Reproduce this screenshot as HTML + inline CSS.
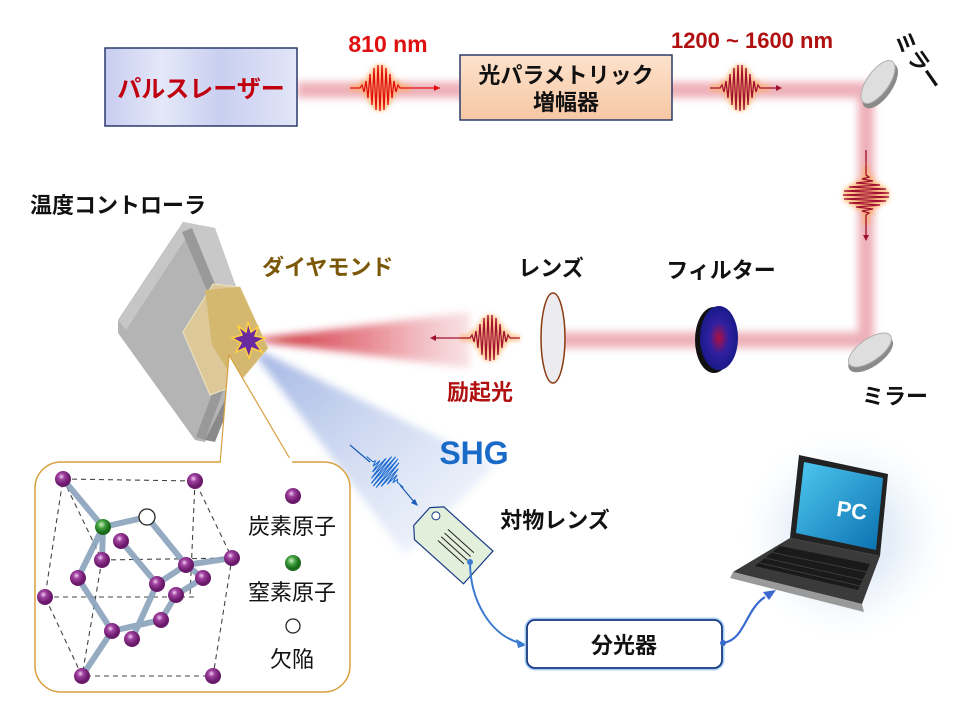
<!DOCTYPE html>
<html><head><meta charset="utf-8"><style>
html,body{margin:0;padding:0;background:#fff;}
svg{display:block;}
text{font-family:"Liberation Sans","Noto Sans CJK JP",sans-serif;}
</style></head><body>
<svg width="960" height="720" viewBox="0 0 960 720" xmlns="http://www.w3.org/2000/svg">
<defs>
<filter id="blur4" x="-50%" y="-50%" width="200%" height="200%"><feGaussianBlur stdDeviation="4"/></filter>
<filter id="blur2" x="-50%" y="-50%" width="200%" height="200%"><feGaussianBlur stdDeviation="2"/></filter>
<linearGradient id="laser" x1="0" x2="1"><stop offset="0" stop-color="#c8cdf0"/><stop offset="0.3" stop-color="#e4e8f8"/><stop offset="0.6" stop-color="#c9cff0"/><stop offset="1" stop-color="#e2e6f8"/></linearGradient>
<linearGradient id="opa" x1="0" y1="0" x2="0" y2="1"><stop offset="0" stop-color="#fde2cc"/><stop offset="1" stop-color="#f6c7a4"/></linearGradient>
<linearGradient id="redcone" x1="0" x2="1"><stop offset="0" stop-color="#c00010" stop-opacity="0.9"/><stop offset="0.6" stop-color="#d83040" stop-opacity="0.5"/><stop offset="1" stop-color="#e07080" stop-opacity="0.2"/></linearGradient>
<linearGradient id="bluecone" x1="0" y1="0" x2="1" y2="1"><stop offset="0" stop-color="#6080d0" stop-opacity="0.6"/><stop offset="1" stop-color="#a0b8e8" stop-opacity="0.08"/></linearGradient>
<radialGradient id="filt"><stop offset="0" stop-color="#b01040"/><stop offset="0.5" stop-color="#3020a0"/><stop offset="1" stop-color="#1a1a8a"/></radialGradient>
<radialGradient id="pcglow"><stop offset="0.4" stop-color="#e3edf8"/><stop offset="1" stop-color="#fff" stop-opacity="0"/></radialGradient>
<radialGradient id="atom" cx="0.4" cy="0.35"><stop offset="0" stop-color="#f0d0f0"/><stop offset="0.4" stop-color="#a040a0"/><stop offset="1" stop-color="#6a1a6a"/></radialGradient>
<radialGradient id="natom" cx="0.4" cy="0.35"><stop offset="0" stop-color="#d0f0c0"/><stop offset="0.5" stop-color="#40a040"/><stop offset="1" stop-color="#1a6a1a"/></radialGradient>
<linearGradient id="screen" x1="0" y1="0" x2="1" y2="1"><stop offset="0" stop-color="#4fc8f0"/><stop offset="1" stop-color="#0a70b0"/></linearGradient>
<path id="pk" d="M-30 0 L-20 0 L-18 -3 L-16 4 L-14 -7 L-12 10 L-10 -14 L-8 17 L-6 -20 L-4 22 L-2 -23 L0 23 L2 -23 L4 22 L6 -20 L8 17 L10 -14 L12 10 L14 -7 L16 4 L18 -3 L20 0 L30 0" fill="none"/>
</defs>

<g filter="url(#blur4)" opacity="0.55">
<path d="M297 90 L866 90 L866 340 L560 340" fill="none" stroke="#e07080" stroke-width="16"/>
</g>
<g filter="url(#blur4)">
<polygon points="250,340 470,312 470,368" fill="url(#redcone)"/>
<polygon points="248,345 495,465 405,555" fill="url(#bluecone)"/>
<circle cx="845" cy="535" r="115" fill="url(#pcglow)"/>
</g>

<rect x="105" y="48" width="192" height="78" fill="url(#laser)" stroke="#2a3a6a" stroke-width="1.5"/>
<text x="201" y="97" font-size="24" font-weight="bold" fill="#c00010" text-anchor="middle">パルスレーザー</text>
<text x="388" y="52" font-size="23" font-weight="bold" fill="#e01010" text-anchor="middle">810 nm</text>

<rect x="460" y="55" width="212" height="65" fill="url(#opa)" stroke="#2a3a6a" stroke-width="1.5"/>
<text x="566" y="83" font-size="22" font-weight="bold" fill="#111" text-anchor="middle">光パラメトリック</text>
<text x="566" y="110" font-size="22" font-weight="bold" fill="#111" text-anchor="middle">増幅器</text>
<text x="752" y="48" font-size="22" font-weight="bold" fill="#b01010" text-anchor="middle">1200 ~ 1600 nm</text>

<g transform="translate(380,88)">
<use href="#pk" stroke="#ffb060" stroke-width="6" filter="url(#blur2)" opacity="0.7"/>
<use href="#pk" stroke="#e01010" stroke-width="1.3"/>
<path d="M30 0 L60 0" stroke="#e01010" stroke-width="1.3"/><path d="M60 0 l-6 -3 v6z" fill="#e01010"/>
</g>
<g transform="translate(740,88)">
<use href="#pk" stroke="#ffb060" stroke-width="6" filter="url(#blur2)" opacity="0.7"/>
<use href="#pk" stroke="#a01030" stroke-width="1.3"/>
<path d="M30 0 L40 0" stroke="#a01030" stroke-width="1.3"/><path d="M42 0 l-6 -3 v6z" fill="#a01030"/>
</g>
<g transform="translate(866,195) rotate(90)">
<path d="M-45 0 L-30 0" stroke="#a01030" stroke-width="1.3"/>
<use href="#pk" stroke="#ffb060" stroke-width="6" filter="url(#blur2)" opacity="0.7"/>
<use href="#pk" stroke="#a01030" stroke-width="1.3"/>
<path d="M30 0 L44 0" stroke="#a01030" stroke-width="1.3"/><path d="M46 0 l-6 -3 v6z" fill="#a01030"/>
</g>
<g transform="translate(490,338)">
<use href="#pk" stroke="#ffb060" stroke-width="6" filter="url(#blur2)" opacity="0.7"/>
<use href="#pk" stroke="#a01030" stroke-width="1.3"/>
<path d="M-30 0 L-58 0" stroke="#a01030" stroke-width="1.3"/><path d="M-60 0 l6 -3 v6z" fill="#a01030"/>
</g>

<g transform="translate(878,82) rotate(35)">
<ellipse cx="4" cy="2" rx="12" ry="26" fill="#8a8a8a"/>
<ellipse cx="0" cy="0" rx="11" ry="25" fill="#dedede" stroke="#b0b0b0"/>
</g>
<text x="0" y="0" font-size="22" font-weight="bold" fill="#111" transform="translate(893,38) rotate(55)">ミラー</text>
<g transform="translate(870,350) rotate(55)">
<ellipse cx="4" cy="2" rx="12" ry="26" fill="#8a8a8a"/>
<ellipse cx="0" cy="0" rx="11" ry="25" fill="#dedede" stroke="#b0b0b0"/>
</g>
<text x="895" y="404" font-size="22" font-weight="bold" fill="#111" text-anchor="middle">ミラー</text>

<ellipse cx="553" cy="338" rx="12" ry="45" fill="#ecebef" stroke="#8a3a10" stroke-width="1.5"/>
<text x="551" y="276" font-size="22" font-weight="bold" fill="#111" text-anchor="middle">レンズ</text>
<ellipse cx="714" cy="340" rx="19" ry="33" fill="#111"/>
<ellipse cx="719" cy="338" rx="19" ry="32" fill="url(#filt)"/>
<text x="721" y="278" font-size="22" font-weight="bold" fill="#111" text-anchor="middle">フィルター</text>
<text x="480" y="400" font-size="22" font-weight="bold" fill="#b01010" text-anchor="middle">励起光</text>

<text x="30" y="213" font-size="22" font-weight="bold" fill="#111">温度コントローラ</text>
<polygon points="118,320 183,222 215,228 255,340 205,442 195,440 118,333" fill="#b4b4b4"/>
<polygon points="183,222 215,228 240,300 210,300" fill="#c8c8c8"/>
<polygon points="118,320 183,222 190,232 126,330" fill="#c6c6c6"/>
<polygon points="182,232 192,228 240,345 205,440 196,437 230,345" fill="#999"/>
<polygon points="205,440 245,360 250,345 255,340 215,442" fill="#8a8a8a"/>
<polygon points="183,332 213,284 240,287 268,348 237,385 210,395" fill="#dcc898" stroke="#f0e4c0"/>
<polygon points="205,290 240,287 268,348 237,385 212,345" fill="#d4b870"/>
<text x="262" y="275" font-size="22" font-weight="bold" fill="#7a5808">ダイヤモンド</text>
<polygon points="248,322 251,332 258,327 255,336 265,338 256,343 262,352 252,348 249,358 245,348 236,352 241,343 232,338 242,335 238,326 246,332" fill="#6a2aa0" stroke="#ffd040" stroke-width="1.5"/>

<polygon points="229,355 220,464 293,464" fill="#fff" stroke="#d9a040" stroke-width="1.2"/>
<rect x="35" y="462" width="315" height="230" rx="26" fill="#fff" stroke="#d9a040" stroke-width="1.5"/>
<rect x="221" y="458" width="71" height="8" fill="#fff"/>
<g stroke="#444" stroke-width="1.1" stroke-dasharray="5,4" fill="none">
<path d="M63 479 L195 481 L232 558 L213 676 L82 676 L45 597 L63 479"/>
<path d="M45 597 L195 597"/><path d="M102 560 L232 558"/>
<path d="M63 479 L102 560 L82 676"/><path d="M195 481 L190 597"/>
</g>
<g stroke="#8aa2bc" stroke-width="6" stroke-linecap="round" fill="none" opacity="0.9">
<path d="M63 479 L103 527 L147 517 L186 565 L232 558"/>
<path d="M103 527 L78 578 L112 631 L82 676"/>
<path d="M121 541 L157 584 L186 565"/>
<path d="M112 631 L161 620 L176 595 L203 578 L186 565"/>
<path d="M157 584 L132 639"/>
<path d="M103 527 L102 560"/>
</g>
<g fill="url(#atom)">
<circle cx="63" cy="479" r="8"/><circle cx="195" cy="481" r="8"/><circle cx="121" cy="541" r="8"/>
<circle cx="102" cy="560" r="8"/><circle cx="232" cy="558" r="8"/><circle cx="186" cy="565" r="8"/>
<circle cx="203" cy="578" r="8"/><circle cx="78" cy="578" r="8"/><circle cx="157" cy="584" r="8"/>
<circle cx="176" cy="595" r="8"/><circle cx="45" cy="597" r="8"/><circle cx="161" cy="620" r="8"/>
<circle cx="112" cy="631" r="8"/><circle cx="132" cy="639" r="8"/><circle cx="82" cy="676" r="8"/>
<circle cx="213" cy="676" r="8"/><circle cx="293" cy="496" r="8"/>
</g>
<circle cx="103" cy="527" r="8" fill="url(#natom)"/>
<circle cx="293" cy="563" r="8" fill="url(#natom)"/>
<circle cx="147" cy="517" r="8" fill="#fff" stroke="#222" stroke-width="1.3"/>
<circle cx="293" cy="626" r="7" fill="#fff" stroke="#222" stroke-width="1.3"/>
<g font-size="22" fill="#111" text-anchor="middle">
<text x="292" y="534">炭素原子</text>
<text x="292" y="600">窒素原子</text>
<text x="292" y="667">欠陥</text>
</g>

<text x="474" y="464" font-size="32" font-weight="bold" fill="#1a6ac8" text-anchor="middle">SHG</text>
<path d="M350 445 L370 462" stroke="#1a5ab8" stroke-width="1.2"/>
<g transform="translate(385,472) rotate(40)">
<use href="#pk" stroke="#1a6ad0" stroke-width="1.3" transform="scale(0.8)"/>
</g>
<path d="M400 485 L415 503" stroke="#1a5ab8" stroke-width="1.2"/><path d="M418 506 l-7 -3 l4 -4z" fill="#1a5ab8"/>

<g transform="translate(450,542) rotate(42)">
<polygon points="-38,-12 -28,-22 38,-22 38,22 -28,22 -38,12" fill="#e2efda" stroke="#1a3a8a" stroke-width="1.2"/>
<circle cx="-28" cy="-10" r="4" fill="#fff" stroke="#1a3a8a"/>
<g stroke="#222" stroke-width="1"><path d="M-10 -8 H25"/><path d="M-10 -3 H25"/><path d="M-10 2 H25"/><path d="M-10 7 H25"/></g>
</g>
<text x="555" y="528" font-size="22" font-weight="bold" fill="#111" text-anchor="middle">対物レンズ</text>
<circle cx="470" cy="562" r="3" fill="#3a7ad0"/>
<path d="M470 562 C470 600 490 635 520 643" stroke="#3a7ad0" stroke-width="2" fill="none"/>
<path d="M527 645 l-11 -6 l2 9z" fill="#3a7ad0"/>

<rect x="527" y="620" width="195" height="48" rx="8" fill="#fff" stroke="#a8d0f4" stroke-width="5"/>
<rect x="527" y="620" width="195" height="48" rx="8" fill="#fff" stroke="#1a3a80" stroke-width="1.8"/>
<text x="624" y="653" font-size="22" font-weight="bold" fill="#111" text-anchor="middle">分光器</text>
<circle cx="723" cy="643" r="3" fill="#3a6ad0"/>
<path d="M723 643 C745 640 745 610 765 597" stroke="#3a6ad0" stroke-width="2.2" fill="none"/>
<path d="M776 590 l-13 2 l6 8z" fill="#3a6ad0"/>

<polygon points="799,455 888,474 880,556 790,538" fill="#222"/>
<polygon points="804,462 883,478 876,550 796,533" fill="url(#screen)"/>
<text x="852" y="518" font-size="22" font-weight="bold" fill="#fff" text-anchor="middle" transform="rotate(8 852 510)">PC</text>
<polygon points="790,538 880,556 862,604 733,572" fill="#3a3a3a"/>
<polygon points="733,572 862,604 864,612 730,578" fill="#9a9a9a"/>
<polygon points="780,546 870,564 858,590 755,566" fill="#1a1a1a"/>
<g stroke="#444" stroke-width="0.8"><path d="M770 552 L866 572"/><path d="M765 558 L863 580"/><path d="M760 563 L860 586"/></g>
</svg>
</body></html>
